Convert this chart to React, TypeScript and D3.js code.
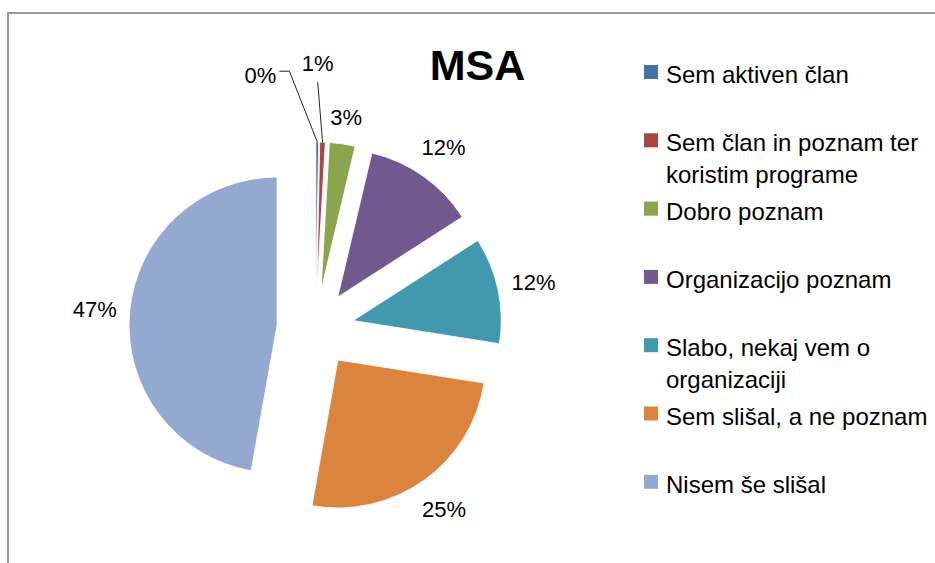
import React, { useEffect, useRef } from "react";
import * as d3 from "d3";

const title = "MSA";
const categories = [
  "Sem aktiven član",
  "Sem član in poznam ter koristim programe",
  "Dobro poznam",
  "Organizacijo poznam",
  "Slabo, nekaj vem o organizaciji",
  "Sem slišal, a ne poznam",
  "Nisem še slišal",
];
// share of answers, percent
const values = [0.3, 0.6, 2.8, 12.2, 11.6, 25.3, 47.2];
const colors = ["#4572A7", "#AA4643", "#89A54E", "#71588F", "#4198AF", "#DB843D", "#93A9CF"];

const W = 935;
const H = 563;
const font = "'Liberation Sans', Arial, sans-serif";

export default function App() {
  const ref = useRef<SVGSVGElement>(null);

  useEffect(() => {
    const svg = d3.select(ref.current);
    svg.selectAll("*").remove();

    // chart area frame (cut off on the right and bottom)
    svg
      .append("path")
      .attr("d", `M8,${H} V13 H${W}`)
      .attr("fill", "none")
      .attr("stroke", "#999")
      .attr("stroke-width", 2);

    const cx = 315.5;
    const cy = 328.5;
    const r = 148;
    const explode = 38.6;

    const pie = d3.pie<number>().sort(null).value((d) => d);
    const arcs = pie(values);
    const arc = d3.arc<d3.PieArcDatum<number>>().innerRadius(0).outerRadius(r);
    const fmt = (v: number) => `${Math.round(v)}%`;

    const dir = (a: number) => [Math.sin(a), -Math.cos(a)];

    const slices = svg.append("g");
    arcs.forEach((a, i) => {
      const [ux, uy] = dir((a.startAngle + a.endAngle) / 2);
      slices
        .append("path")
        .attr("transform", `translate(${cx + explode * ux},${cy + explode * uy})`)
        .attr("d", arc(a) as string)
        .attr("fill", colors[i])
        .attr("stroke", "#fff")
        .attr("stroke-width", 0.8);
    });

    // small slices get moved labels with leader lines
    const leaders: Record<number, { angle: number; len: number; tail: number }> = {
      0: { angle: -21.5, len: 76, tail: -10 },
      1: { angle: -4.6, len: 60, tail: 0 },
    };

    const labels = svg.append("g").attr("font-family", font).attr("font-size", 22).attr("fill", "#000");
    arcs.forEach((a, i) => {
      const [ux, uy] = dir((a.startAngle + a.endAngle) / 2);
      const ax = cx + explode * ux;
      const ay = cy + explode * uy;
      const ex = ax + r * ux;
      const ey = ay + r * uy;
      const t = labels.append("text").attr("dy", "0.35em").text(fmt(values[i]));
      const ld = leaders[i];
      if (ld) {
        const la = (ld.angle * Math.PI) / 180;
        const lx = ex + ld.len * Math.sin(la);
        const ly = ey - ld.len * Math.cos(la);
        const tx = lx + ld.tail;
        svg
          .append("path")
          .attr("d", `M${ex},${ey} L${lx},${ly} L${tx},${ly}`)
          .attr("fill", "none")
          .attr("stroke", "#222")
          .attr("stroke-width", 1);
        if (ld.tail < 0) {
          t.attr("text-anchor", "end").attr("x", tx - 3).attr("y", ly + 4);
        } else {
          t.attr("text-anchor", "middle").attr("x", tx).attr("y", ly - 19);
        }
      } else {
        const bb = (t.node() as SVGTextElement).getBBox();
        const pad = 12;
        const off = pad + (bb.width / 2) * Math.abs(ux) + (bb.height / 2) * Math.abs(uy);
        t.attr("text-anchor", "middle").attr("x", ex + off * ux).attr("y", ey + off * uy);
      }
    });

    svg
      .append("text")
      .attr("x", 477.5)
      .attr("y", 80)
      .attr("text-anchor", "middle")
      .attr("font-family", font)
      .attr("font-weight", "bold")
      .attr("font-size", 43)
      .attr("fill", "#000")
      .text(title);

    // legend
    const legend = svg.append("g").attr("font-family", font).attr("font-size", 24).attr("fill", "#000");
    const startY = 83;
    const step = 68.3;
    const lineH = 32;
    const wrapW = 265;
    categories.forEach((c, i) => {
      const y = startY + i * step;
      legend
        .append("rect")
        .attr("x", 644)
        .attr("y", y - 18)
        .attr("width", 14)
        .attr("height", 14)
        .attr("fill", colors[i]);
      const words = c.split(" ");
      let line: string[] = [];
      let row = 0;
      let t = legend.append("text").attr("x", 666).attr("y", y);
      words.forEach((w) => {
        line.push(w);
        t.text(line.join(" "));
        if ((t.node() as SVGTextElement).getComputedTextLength() > wrapW && line.length > 1) {
          line.pop();
          t.text(line.join(" "));
          line = [w];
          row += 1;
          t = legend.append("text").attr("x", 666).attr("y", y + row * lineH).text(w);
        }
      });
    });
  }, []);

  return (
    <svg
      ref={ref}
      width={W}
      height={H}
      style={{ position: "absolute", left: 0, top: 0, background: "#fff" }}
    />
  );
}
